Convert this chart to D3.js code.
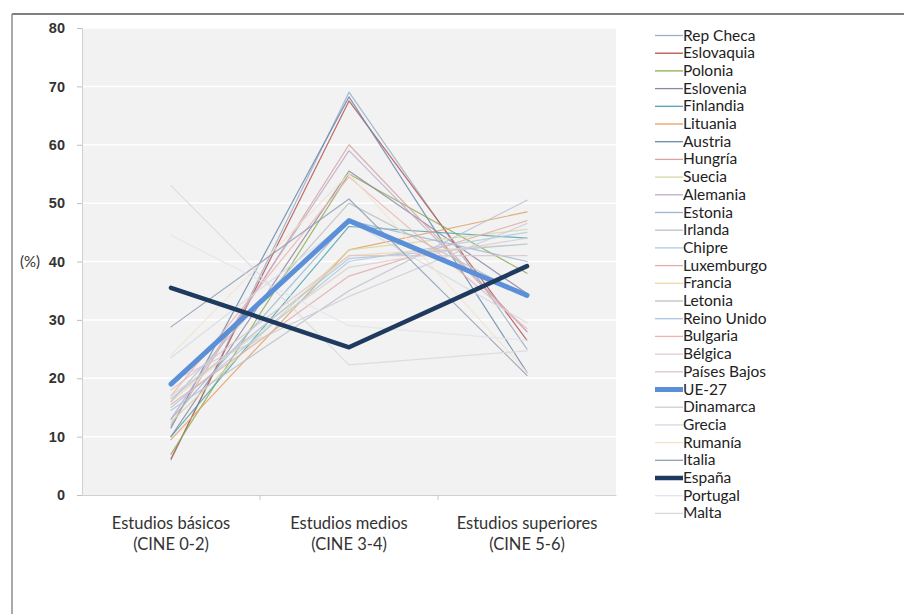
<!DOCTYPE html>
<html><head><meta charset="utf-8">
<script src="https://cdn.jsdelivr.net/npm/d3@7"></script>
<style>body{margin:0;background:#fff;}svg{display:block;font-family:Lato,"Open Sans",sans-serif;}</style>
</head><body><svg id="c" width="904" height="614"></svg>
<script>
const categories = ["Estudios básicos|(CINE 0-2)", "Estudios medios|(CINE 3-4)", "Estudios superiores|(CINE 5-6)"];
const countries = ["Rep Checa","Eslovaquia","Polonia","Eslovenia","Finlandia","Lituania","Austria","Hungría","Suecia","Alemania","Estonia","Irlanda","Chipre","Luxemburgo","Francia","Letonia","Reino Unido","Bulgaria","Bélgica","Países Bajos","UE-27","Dinamarca","Grecia","Rumanía","Italia","España","Portugal","Malta"];
const basicos   = [6, 6.2, 7, 10, 10, 9.5, 11.5, 12, 12.5, 13, 13, 14.5, 15, 15.5, 16, 16, 16.5, 17, 17, 18, 19, 19.5, 23.5, 24, 28.8, 35.5, 44.5, 53];
const medios    = [69, 67.5, 55, 55.5, 46, 42, 68.2, 60, 42, 59, 47, 35, 40, 37.5, 41, 50, 40.5, 54.5, 39, 41, 47, 34, 47, 55, 50.7, 25.3, 29, 22.3];
const superiores= [25, 26.5, 38, 34.5, 44, 48.5, 21, 28, 45.5, 28, 40, 50.5, 45, 47, 43, 34, 43, 28.5, 44, 41, 34.2, 46.5, 29.5, 21, 20.5, 39.2, 26.5, 24.7];
const colors = ["#9aaecb","#b5524c","#8fae55","#8f86a5","#4ea6ad","#e3a15e","#6a8aae","#d9a3a3","#d6d8a6","#bcaccc","#9ab6d3","#bcbfcc","#abcbe3","#e3abab","#ebdaa9","#c0c0c0","#abc5e3","#f0b3ab","#dccccc","#dbc4cc","#5b8fd8","#cbcbd5","#d3dbe3","#f1e2cc","#8e9db5","#1f3a5f","#e3e3eb","#d9d9d9"];
const widths = countries.map(c => c === "UE-27" ? 5 : c === "España" ? 4.5 : 1.2);
const yTicks = [0,10,20,30,40,50,60,70,80];

const svg = d3.select("#c");
// frame
svg.append("line").attr("x1",12).attr("x2",904).attr("y1",14).attr("y2",14).attr("stroke","#7f7f7f").attr("stroke-width",2);
svg.append("line").attr("x1",12).attr("x2",12).attr("y1",14).attr("y2",614).attr("stroke","#8c8c8c").attr("stroke-width",1.5);

const L = 82, R = 616, T = 28, B = 495;
const x = d3.scaleBand().domain(categories).range([L, R]);
const y = d3.scaleLinear().domain([0, 80]).range([B, T]);

svg.append("rect").attr("x",L).attr("y",T).attr("width",R-L).attr("height",B-T).attr("fill","#f2f2f2");
svg.append("g").selectAll("line").data(yTicks.slice(1)).join("line")
  .attr("x1",L).attr("x2",R).attr("y1",d=>y(d)).attr("y2",d=>y(d)).attr("stroke","#ffffff").attr("stroke-width",1.5);

const yAxis = svg.append("g").attr("transform",`translate(${L},0)`)
  .call(d3.axisLeft(y).tickValues(yTicks).tickSize(5).tickPadding(12));
yAxis.select(".domain").attr("stroke","#d0d0d0");
yAxis.selectAll(".tick line").attr("stroke","#bfbfbf");
yAxis.selectAll("text").attr("font-size",14.5).attr("font-weight","bold").attr("fill","#333");

const xAxis = svg.append("g").attr("transform",`translate(0,${B})`)
  .call(d3.axisBottom(x).tickSize(0).tickFormat(""));
xAxis.select(".domain").attr("stroke","#d0d0d0");
svg.append("g").selectAll("line").data([categories[1], categories[2]]).join("line")
  .attr("x1",d=>x(d)).attr("x2",d=>x(d)).attr("y1",B).attr("y2",B+5).attr("stroke","#c8c8c8");
const lab = svg.append("g").selectAll("text").data(categories).join("text")
  .attr("x",d=>x(d)+x.bandwidth()/2).attr("y",B+34).attr("text-anchor","middle")
  .attr("font-size",16.5).attr("fill","#333");
lab.each(function(d){
  const p = d.split("|");
  d3.select(this).append("tspan").attr("x",x(d)+x.bandwidth()/2).attr("dy",0).text(p[0]);
  d3.select(this).append("tspan").attr("x",x(d)+x.bandwidth()/2).attr("dy",21).text(p[1]);
});
svg.append("text").attr("x",20).attr("y",y(40)+5).attr("font-size",15).attr("fill","#333").text("(%)");

const series = countries.map((c,i)=>({name:c, color:colors[i], w:widths[i], vals:[basicos[i],medios[i],superiores[i]]}));
const line = d3.line().x((d,j)=>x(categories[j])+x.bandwidth()/2).y(d=>y(d));
const order = series.filter(s=>s.w<2).concat(series.filter(s=>s.name==="UE-27"), series.filter(s=>s.name==="España"));
svg.append("g").selectAll("path").data(order).join("path")
  .attr("d",s=>line(s.vals)).attr("fill","none").attr("stroke",s=>s.color).attr("stroke-width",s=>s.w)
  .attr("stroke-opacity",s=>s.w<2?0.85:1)
  .attr("stroke-linejoin","round").attr("stroke-linecap","round");

const leg = svg.append("g").selectAll("g").data(series).join("g")
  .attr("transform",(s,i)=>`translate(655,${35.5+i*17.7})`);
leg.append("line").attr("x1",0).attr("x2",28).attr("stroke",s=>s.color).attr("stroke-width",s=>s.w>2?s.w:1.3);
leg.append("text").attr("x",28).attr("y",5).attr("font-size",15.5).attr("fill","#222").text(s=>s.name);
</script></body></html>
